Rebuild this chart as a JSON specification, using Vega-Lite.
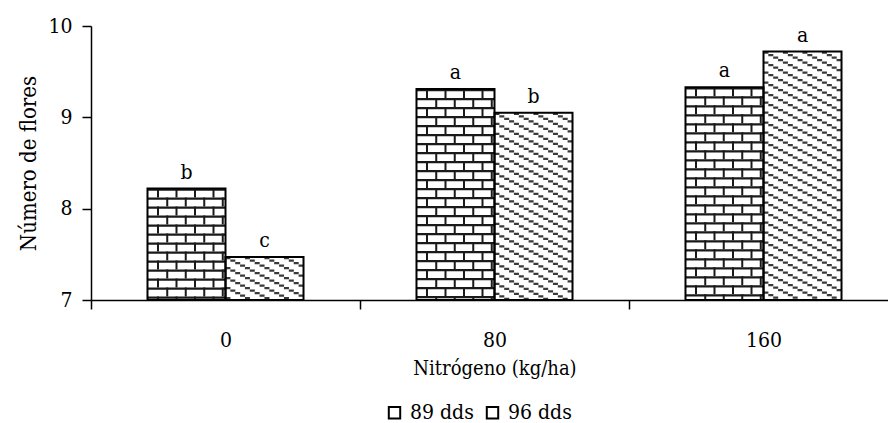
{
  "$schema": "https://vega.github.io/schema/vega-lite/v6.json",
  "autosize": "none",
  "padding": {"left": 91, "top": 26, "right": 0, "bottom": 123},
  "width": 807,
  "height": 274,
  "background": "white",
  "data": {"values": [
    {"N": "0", "dds": "89 dds", "v": 8.22, "lab": "b"},
    {"N": "0", "dds": "96 dds", "v": 7.47, "lab": "c"},
    {"N": "80", "dds": "89 dds", "v": 9.31, "lab": "a"},
    {"N": "80", "dds": "96 dds", "v": 9.05, "lab": "b"},
    {"N": "160", "dds": "89 dds", "v": 9.33, "lab": "a"},
    {"N": "160", "dds": "96 dds", "v": 9.72, "lab": "a"}
  ]},
  "encoding": {
    "x": {"field": "N", "type": "nominal", "sort": ["0", "80", "160"],
      "scale": {"type": "band", "domain": ["0", "80", "160"], "paddingInner": 0.42, "paddingOuter": 0.21},
      "axis": {"labelAngle": 0, "tickOffset": -134.5, "labelOffset": 134.5, "labelPadding": 20, "titlePadding": 8, "title": "Nitrógeno (kg/ha)"}},
    "y": {"field": "v", "type": "quantitative", "title": "Número de flores",
      "scale": {"domain": [7, 10], "zero": false, "nice": false},
      "axis": {"values": [7, 8, 9, 10], "format": "d", "labelPadding": 10, "titlePadding": 7, "titleFontSize": 22}},
    "y2": {"datum": 7}
  },
  "layer": [
    {
      "mark": {"type": "bar"},
      "encoding": {
        "xOffset": {"field": "dds", "type": "nominal", "scale": {"domain": ["89 dds", "96 dds"], "paddingInner": 0, "paddingOuter": 0}},
        "fill": {"field": "dds", "type": "nominal", "scale": {"domain": ["89 dds", "96 dds"], "range": ["#ffffff", "#ffffff"]},
          "legend": {"orient": "none", "legendX": 293, "legendY": 376, "direction": "horizontal", "title": null, "symbolType": "square", "symbolSize": 130, "symbolStrokeColor": "black", "symbolStrokeWidth": 2, "labelFontSize": 21, "columnPadding": 8, "labelOffset": 5}}
      }
    },
    {
      "transform": [{"filter": "datum.dds == '89 dds'"}],
      "layer": [
        {"mark": {"type": "rule", "stroke": "#1a1a1a", "strokeWidth": 78, "strokeDash": [2.2, 6.8]},
         "encoding": {"x": {"field": "N", "type": "nominal", "bandPosition": 0.25}}},
        {"mark": {"type": "rule", "stroke": "#1a1a1a", "strokeWidth": 2, "strokeDash": [9, 9]},
         "encoding": {"x": {"field": "N", "type": "nominal", "bandPosition": 0.0673}}},
        {"mark": {"type": "rule", "stroke": "#1a1a1a", "strokeWidth": 2, "strokeDash": [9, 9]},
         "encoding": {"x": {"field": "N", "type": "nominal", "bandPosition": 0.1859}}},
        {"mark": {"type": "rule", "stroke": "#1a1a1a", "strokeWidth": 2, "strokeDash": [9, 9]},
         "encoding": {"x": {"field": "N", "type": "nominal", "bandPosition": 0.3045}}},
        {"mark": {"type": "rule", "stroke": "#1a1a1a", "strokeWidth": 2, "strokeDash": [9, 9]},
         "encoding": {"x": {"field": "N", "type": "nominal", "bandPosition": 0.4231}}},
        {"mark": {"type": "rule", "stroke": "#1a1a1a", "strokeWidth": 2, "strokeDash": [9, 9], "strokeDashOffset": 9},
         "encoding": {"x": {"field": "N", "type": "nominal", "bandPosition": 0.1266}}},
        {"mark": {"type": "rule", "stroke": "#1a1a1a", "strokeWidth": 2, "strokeDash": [9, 9], "strokeDashOffset": 9},
         "encoding": {"x": {"field": "N", "type": "nominal", "bandPosition": 0.2452}}},
        {"mark": {"type": "rule", "stroke": "#1a1a1a", "strokeWidth": 2, "strokeDash": [9, 9], "strokeDashOffset": 9},
         "encoding": {"x": {"field": "N", "type": "nominal", "bandPosition": 0.3638}}},
        {"mark": {"type": "rule", "stroke": "#1a1a1a", "strokeWidth": 2, "strokeDash": [9, 9], "strokeDashOffset": 9},
         "encoding": {"x": {"field": "N", "type": "nominal", "bandPosition": 0.4824}}}
      ]
    },
    {
      "transform": [{"filter": "datum.dds == '96 dds'"}],
      "layer": [
        {"mark": {"type": "rule", "stroke": "#3a3a3a", "strokeWidth": 5, "strokeDash": [2.2, 7.8]},
         "encoding": {"x": {"field": "N", "type": "nominal", "bandPosition": 0.5156}}},
        {"mark": {"type": "rule", "stroke": "#3a3a3a", "strokeWidth": 5, "strokeDash": [2.2, 7.8], "strokeDashOffset": 7.5},
         "encoding": {"x": {"field": "N", "type": "nominal", "bandPosition": 0.5469}}},
        {"mark": {"type": "rule", "stroke": "#3a3a3a", "strokeWidth": 5, "strokeDash": [2.2, 7.8], "strokeDashOffset": 5},
         "encoding": {"x": {"field": "N", "type": "nominal", "bandPosition": 0.5781}}},
        {"mark": {"type": "rule", "stroke": "#3a3a3a", "strokeWidth": 5, "strokeDash": [2.2, 7.8], "strokeDashOffset": 2.5},
         "encoding": {"x": {"field": "N", "type": "nominal", "bandPosition": 0.6094}}},
        {"mark": {"type": "rule", "stroke": "#3a3a3a", "strokeWidth": 5, "strokeDash": [2.2, 7.8]},
         "encoding": {"x": {"field": "N", "type": "nominal", "bandPosition": 0.6406}}},
        {"mark": {"type": "rule", "stroke": "#3a3a3a", "strokeWidth": 5, "strokeDash": [2.2, 7.8], "strokeDashOffset": 7.5},
         "encoding": {"x": {"field": "N", "type": "nominal", "bandPosition": 0.6719}}},
        {"mark": {"type": "rule", "stroke": "#3a3a3a", "strokeWidth": 5, "strokeDash": [2.2, 7.8], "strokeDashOffset": 5},
         "encoding": {"x": {"field": "N", "type": "nominal", "bandPosition": 0.7031}}},
        {"mark": {"type": "rule", "stroke": "#3a3a3a", "strokeWidth": 5, "strokeDash": [2.2, 7.8], "strokeDashOffset": 2.5},
         "encoding": {"x": {"field": "N", "type": "nominal", "bandPosition": 0.7344}}},
        {"mark": {"type": "rule", "stroke": "#3a3a3a", "strokeWidth": 5, "strokeDash": [2.2, 7.8]},
         "encoding": {"x": {"field": "N", "type": "nominal", "bandPosition": 0.7656}}},
        {"mark": {"type": "rule", "stroke": "#3a3a3a", "strokeWidth": 5, "strokeDash": [2.2, 7.8], "strokeDashOffset": 7.5},
         "encoding": {"x": {"field": "N", "type": "nominal", "bandPosition": 0.7969}}},
        {"mark": {"type": "rule", "stroke": "#3a3a3a", "strokeWidth": 5, "strokeDash": [2.2, 7.8], "strokeDashOffset": 5},
         "encoding": {"x": {"field": "N", "type": "nominal", "bandPosition": 0.8281}}},
        {"mark": {"type": "rule", "stroke": "#3a3a3a", "strokeWidth": 5, "strokeDash": [2.2, 7.8], "strokeDashOffset": 2.5},
         "encoding": {"x": {"field": "N", "type": "nominal", "bandPosition": 0.8594}}},
        {"mark": {"type": "rule", "stroke": "#3a3a3a", "strokeWidth": 5, "strokeDash": [2.2, 7.8]},
         "encoding": {"x": {"field": "N", "type": "nominal", "bandPosition": 0.8906}}},
        {"mark": {"type": "rule", "stroke": "#3a3a3a", "strokeWidth": 5, "strokeDash": [2.2, 7.8], "strokeDashOffset": 7.5},
         "encoding": {"x": {"field": "N", "type": "nominal", "bandPosition": 0.9219}}},
        {"mark": {"type": "rule", "stroke": "#3a3a3a", "strokeWidth": 5, "strokeDash": [2.2, 7.8], "strokeDashOffset": 5},
         "encoding": {"x": {"field": "N", "type": "nominal", "bandPosition": 0.9531}}},
        {"mark": {"type": "rule", "stroke": "#3a3a3a", "strokeWidth": 5, "strokeDash": [2.2, 7.8], "strokeDashOffset": 2.5},
         "encoding": {"x": {"field": "N", "type": "nominal", "bandPosition": 0.9844}}}
      ]
    },
    {
      "mark": {"type": "bar", "fill": "transparent", "stroke": "black", "strokeWidth": 2},
      "encoding": {
        "xOffset": {"field": "dds", "type": "nominal"}
      }
    },
    {
      "mark": {"type": "text", "baseline": "alphabetic", "dy": -10, "fontSize": 21, "color": "black"},
      "encoding": {
        "xOffset": {"field": "dds", "type": "nominal"},
        "y2": null,
        "text": {"field": "lab"}
      }
    }
  ],
  "config": {
    "view": {"stroke": null},
    "font": "DejaVu Serif Condensed",
    "axis": {"grid": false, "domainColor": "black", "tickColor": "black", "labelColor": "black", "titleColor": "black",
      "domainWidth": 1.5, "tickWidth": 1.5, "tickSize": 9, "labelFontSize": 21, "titleFontSize": 20, "titleFontWeight": "normal",
      "labelFont": "DejaVu Serif Condensed", "titleFont": "DejaVu Serif Condensed"},
    "legend": {"labelFont": "DejaVu Serif Condensed", "labelColor": "black"}
  }
}
